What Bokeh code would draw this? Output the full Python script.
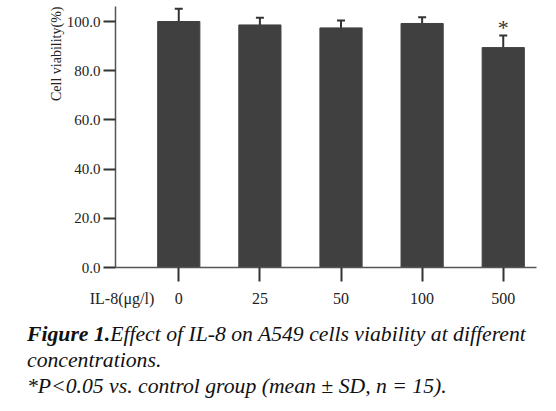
from bokeh.plotting import figure
from bokeh.models import (ColumnDataSource, Range1d, FixedTicker, PrintfTickFormatter,
                          Whisker, TeeHead, Title, Div, LinearAxis)
from bokeh.layouts import column
from bokeh.core.properties import value
from bokeh.embed import file_html
from bokeh.resources import INLINE

# ---- data ----
concentrations = ["0", "25", "50", "100", "500"]
viability = [100.0, 98.6, 97.4, 99.2, 89.4]
sd = [5.2, 2.9, 3.0, 2.5, 4.9]
significant = [False, False, False, False, True]
y_ticks = [0, 20, 40, 60, 80, 100]
y_label = "Cell viability(%)"
x_label = "IL-8(μg/l)"
x_label_pos = -0.70

xs = list(range(len(concentrations)))
upper = [v + s for v, s in zip(viability, sd)]
src = ColumnDataSource(dict(x=xs, top=viability, upper=upper))

FONT = "Liberation Serif"
INK = "#222222"

p = figure(width=545, height=312, output_backend="svg", toolbar_location=None,
           x_range=Range1d(-0.78, 4.41), y_range=Range1d(0, 106.1),
           min_border_left=115, min_border_right=9, min_border_top=6, min_border_bottom=45,
           x_axis_location=None)
p.outline_line_color = None
p.grid.grid_line_color = None

p.vbar(x="x", top="top", width=0.52, bottom=0, source=src,
       fill_color="#404040", line_color="#404040")

wh = Whisker(base="x", upper="upper", lower="top", source=src,
             line_color="#333333", line_width=2,
             upper_head=TeeHead(size=8, line_color="#333333", line_width=2),
             lower_head=None)
p.add_layout(wh)

star_x = [x for x, s in zip(xs, significant) if s]
star_y = [u for u, s in zip(upper, significant) if s]
p.text(x=star_x, y=star_y, text=["*"] * len(star_x), text_font=value(FONT),
       text_font_size="22px", text_align="center", text_baseline="alphabetic",
       y_offset=-8, text_color="#333333")

# x axis: labelled major ticks (no marks) + unlabelled minor tick marks at the bars
ax = LinearAxis(ticker=FixedTicker(ticks=[x_label_pos] + xs, minor_ticks=xs))
ax.major_label_overrides = {x_label_pos: x_label, **{i: c for i, c in enumerate(concentrations)}}
ax.major_tick_in = 0
ax.major_tick_out = 0
ax.major_tick_line_color = None
ax.minor_tick_in = 0
ax.minor_tick_out = 14
ax.minor_tick_line_width = 2
ax.minor_tick_line_color = "#333333"
ax.axis_line_color = "#555555"
ax.axis_line_width = 1.5
ax.major_label_standoff = 8
ax.major_label_text_font = FONT
ax.major_label_text_font_size = "16px"
ax.major_label_text_color = INK
p.add_layout(ax, "below")

ay = p.yaxis[0]
ay.ticker = FixedTicker(ticks=y_ticks)
ay.formatter = PrintfTickFormatter(format="%.1f")
ay.major_tick_in = 0
ay.major_tick_out = 12
ay.major_tick_line_width = 2
ay.major_tick_line_color = "#333333"
ay.minor_tick_line_color = None
ay.axis_line_color = "#555555"
ay.axis_line_width = 1.5
ay.major_label_standoff = 3
ay.major_label_text_font = FONT
ay.major_label_text_font_size = "15px"
ay.major_label_text_color = INK

p.add_layout(Title(text=y_label, align="right", text_font=FONT, text_font_size="14px",
                   text_font_style="normal", text_color=INK, standoff=0, offset=0), "left")

caption = Div(text=("<div style=\"font-family:'Liberation Serif';font-size:21.7px;"
                    "font-style:italic;line-height:26px;color:#111;white-space:nowrap\">"
                    "<b>Figure 1.</b>Effect of IL-8 on A549 cells viability at different<br>"
                    "concentrations.<br>"
                    "*P&lt;0.05 vs. control group (mean ± SD, n = 15).</div>"),
              width=535, margin=(9, 0, 0, 27))

layout = column(p, caption, spacing=0)
open("out.html", "w").write(file_html(layout, INLINE))
